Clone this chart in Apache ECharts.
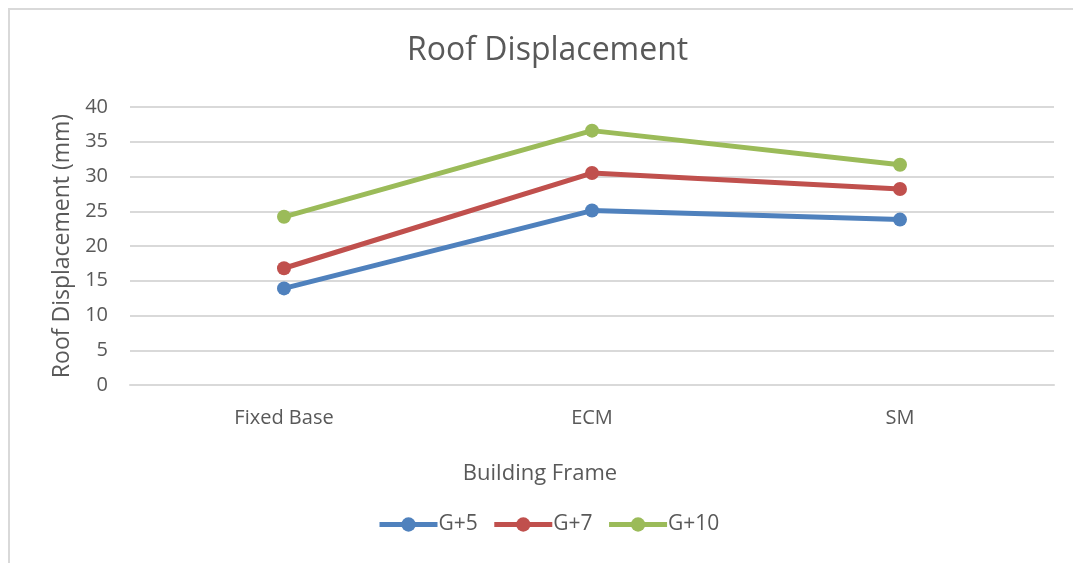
<!DOCTYPE html>
<html>
<head>
<meta charset="utf-8">
<script src="https://cdn.jsdelivr.net/npm/echarts@6/dist/echarts.min.js"></script>
<style>
  html, body { margin: 0; padding: 0; background: #fff; }
  #frame {
    position: absolute; left: 8px; top: 8px; width: 1075px; height: 565px;
    border: 2px solid #d9d9d9; box-sizing: border-box;
  }
  #chart { position: absolute; left: 0; top: 0; width: 1073px; height: 563px; }
</style>
</head>
<body>
<div id="frame"></div>
<div id="chart"></div>
<script>
// categories and values
const categories = ['Fixed Base', 'ECM', 'SM'];
const g5 = [13.9, 25.1, 23.8];
const g7 = [16.8, 30.5, 28.2];
const g10 = [24.2, 36.6, 31.7];
const seriesNames = ['G+5', 'G+7', 'G+10'];
const colors = ['#4f81bd', '#c0504d', '#9bbb59'];

const font = 'Open Sans, Liberation Sans, sans-serif';
const myChart = echarts.init(document.getElementById('chart'));

const makeSeries = (name, data, color) => ({
  name: name,
  type: 'line',
  data: data,
  symbol: 'circle',
  symbolSize: 14,
  lineStyle: { width: 5, color: color },
  itemStyle: { color: color },
  z: 3
});

const option = {
  backgroundColor: 'transparent',
  animation: false,
  title: {
    text: 'Roof Displacement',
    left: 402,
    top: 30,
    textStyle: { fontFamily: font, fontSize: 32, fontWeight: 'normal', color: '#595959' }
  },
  legend: {
    top: 509,
    left: 372,
    itemWidth: 58,
    itemHeight: 18,
    itemGap: 14,
    data: seriesNames,
    lineStyle: { width: 5 },
    textStyle: { fontFamily: font, fontSize: 21, color: '#595959', padding: [0, 0, 0, -4] }
  },
  grid: { left: 130, right: 19, top: 107, bottom: 178 },
  xAxis: {
    type: 'category',
    data: categories,
    name: 'Building Frame',
    nameLocation: 'middle',
    nameGap: 78,
    nameTextStyle: { fontFamily: font, fontSize: 22, color: '#595959', padding: [0, 104, 0, 0] },
    axisLine: { show: true, lineStyle: { color: '#d9d9d9', width: 2 } },
    axisTick: { show: false },
    axisLabel: { fontFamily: font, fontSize: 20, color: '#595959', margin: 23 }
  },
  yAxis: {
    type: 'value',
    min: 0,
    max: 40,
    interval: 5,
    name: 'Roof Displacement (mm)',
    nameLocation: 'middle',
    nameGap: 56,
    nameTextStyle: { fontFamily: font, fontSize: 23, color: '#595959' },
    axisLine: { show: false },
    axisTick: { show: false },
    axisLabel: { fontFamily: font, fontSize: 20, color: '#595959', margin: 22 },
    splitLine: { lineStyle: { color: '#d9d9d9', width: 2 } }
  },
  series: [
    makeSeries(seriesNames[0], g5, colors[0]),
    makeSeries(seriesNames[1], g7, colors[1]),
    makeSeries(seriesNames[2], g10, colors[2])
  ]
};

myChart.setOption(option);
</script>
</body>
</html>
